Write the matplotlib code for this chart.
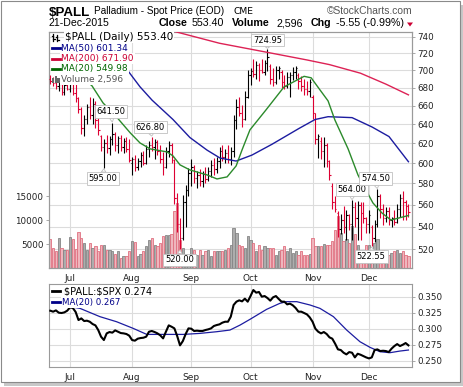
import numpy as np
import matplotlib
matplotlib.use('Agg')
import matplotlib.pyplot as plt
from matplotlib.ticker import FixedLocator, FuncFormatter, NullLocator
from matplotlib.transforms import blended_transform_factory
from matplotlib.patches import Rectangle, Polygon
from matplotlib.lines import Line2D

# ---------------- data ----------------
opens = [690, 688, 685, 682, 684, 675, 683, 679, 684, 674, 668, 656, 636, 646, 658, 650, 662, 644, 628, 616,
         620, 615, 624, 630, 618, 625, 616, 622, 614, 600, 604, 596, 602, 608, 600, 614, 618, 616, 621, 612,
         604, 596, 612, 618, 603, 566, 542, 530, 562, 574, 590, 596, 585, 588, 582, 589, 584, 592, 598, 594,
         602, 612, 606, 610, 604, 612, 644, 658, 652, 645, 670, 694, 699, 696, 706, 700, 698, 708, 705, 690,
         686, 700, 698, 686, 682, 692, 694, 698, 694, 688, 682, 678, 676, 670, 652, 624, 622, 612, 618, 602,
         578, 562, 552, 538, 546, 540, 550, 542, 558, 548, 560, 552, 548, 542, 540, 530, 542, 568, 556, 548,
         554, 546, 548, 544, 556, 566, 562, 559]
highs = [694, 692, 689, 688, 687, 686, 687, 686, 685, 685, 670, 658, 650, 662, 670, 668, 665, 650, 629, 624,
         629, 628, 641.5, 632, 628, 629, 626, 627, 624, 606, 608, 605, 611, 612, 618, 622, 626.8, 624, 623, 618,
         611, 616, 622, 620, 604, 571, 548, 569, 579, 595, 604, 598, 592, 594, 592, 596, 596, 603, 605, 606,
         616, 618, 614, 618, 616, 650, 667, 670, 661, 676, 700, 702, 713, 711, 708, 713, 712, 724.95, 707, 702,
         705, 705, 700, 695, 698, 698, 704, 705, 697, 693, 690, 688, 690, 672, 652, 630, 627, 627, 620, 603,
         580, 568, 554, 551, 559, 555, 551, 564, 562, 563, 562, 562, 549, 555, 541, 546, 574.5, 570, 561, 558,
         558, 549, 555, 561, 570, 573, 564, 561]
lows = [684, 682, 679, 676, 672, 672, 677, 675, 672, 664, 652, 630, 628, 640, 645, 640, 636, 629, 612, 595,
        610, 608, 618, 612, 610, 612, 610, 611, 601, 588, 592, 593, 596, 598, 599, 606, 612, 604, 608, 600,
        588, 595, 606, 600, 561, 535, 520, 528, 540, 568, 578, 580, 576, 578, 577, 580, 582, 586, 588, 590,
        595, 602, 600, 600, 598, 606, 635, 649, 637, 644, 668, 683, 692, 690, 688, 697, 694, 699, 684, 682,
        684, 690, 680, 679, 680, 670, 689, 690, 678, 676, 672, 672, 670, 646, 619, 605, 604, 596, 596, 583,
        556, 553, 531, 533, 534, 528, 537, 528, 540, 528, 528, 543, 534, 534, 522.55, 526, 540, 548, 541, 544,
        541, 540, 541, 543, 549, 546, 546, 549]
closes = [688, 685, 682, 684, 675, 683, 679, 684, 674, 668, 656, 636, 646, 658, 650, 662, 644, 634, 616, 620,
          615, 624, 630, 618, 625, 616, 622, 614, 603, 604, 596, 602, 608, 600, 614, 618, 616, 621, 612, 604,
          596, 612, 618, 606, 566, 542, 530, 562, 574, 590, 596, 585, 588, 582, 589, 584, 592, 598, 594, 602,
          612, 606, 610, 604, 612, 644, 658, 652, 645, 670, 694, 699, 696, 706, 700, 698, 708, 716, 690, 686,
          700, 702, 686, 682, 692, 694, 698, 702, 688, 682, 678, 676, 686, 652, 624, 628, 612, 618, 602, 588,
          562, 556, 538, 546, 540, 550, 542, 558, 548, 560, 552, 548, 542, 550, 530, 542, 568, 556, 548, 554,
          546, 548, 544, 556, 566, 562, 558.95, 553.40]
volumes = [6040, 4170, 3460, 6250, 4170, 3810, 3810, 6460, 6040, 3960, 7500, 6250, 5210, 3810, 5210, 4170, 4510, 3620, 4860, 4860,
           3810, 3810, 3600, 2830, 3620, 2080, 2570, 2570, 3460, 5690, 5340, 2570, 2980, 3460, 4510, 5900, 6250, 4860, 4510, 5210,
           6730, 6940, 6940, 7000, 11800, 13540, 5900, 4200, 3000, 2200, 4170, 3810, 2780, 3810, 2780, 3460, 3810, 2570, 3460, 3460,
           3460, 3620, 3810, 4200, 4860, 8330, 7290, 4860, 4510, 4170, 6600, 5900, 5210, 3460, 4860, 3810, 4510, 4170, 4170, 4170,
           2780, 3460, 3810, 4510, 3460, 4170, 3100, 3460, 2780, 3460, 2780, 2780, 3000, 6250, 4510, 4600, 4510, 5000, 4860, 4860,
           5600, 7980, 10750, 7300, 5600, 6000, 5200, 8670, 7000, 4860, 3460, 3460, 4860, 4860, 3460, 5200, 6040, 3460, 3810, 2780,
           2780, 3100, 3460, 3810, 3100, 3460, 2780, 2596]
ratio = [0.3281, 0.3266, 0.3286, 0.3250, 0.3245, 0.3255, 0.3281, 0.3333, 0.3323, 0.3260, 0.3135, 0.3161, 0.3120, 0.3125, 0.3109, 0.3073,
         0.3052, 0.2979, 0.2875, 0.2823, 0.2927, 0.2948, 0.2938, 0.2974, 0.2953, 0.2932, 0.2927, 0.2917, 0.2891, 0.2823, 0.2813, 0.2844,
         0.2854, 0.2859, 0.2875, 0.2953, 0.2964, 0.2948, 0.2927, 0.2896, 0.2849, 0.2953, 0.3052, 0.3031, 0.3005, 0.2885, 0.2740, 0.2807,
         0.2917, 0.3005, 0.3000, 0.2964, 0.2969, 0.2964, 0.2964, 0.2979, 0.2990, 0.3005, 0.3042, 0.3057, 0.3068, 0.3094, 0.3109, 0.3109,
         0.3188, 0.3370, 0.3422, 0.3443, 0.3427, 0.3469, 0.3422, 0.3510, 0.3604, 0.3563, 0.3573, 0.3500, 0.3510, 0.3479, 0.3438, 0.3490,
         0.3510, 0.3464, 0.3422, 0.3422, 0.3380, 0.3391, 0.3365, 0.3323, 0.3266, 0.3266, 0.3245, 0.3224, 0.3177, 0.3109, 0.3000, 0.2953,
         0.2927, 0.2948, 0.2917, 0.2865, 0.2844, 0.2766, 0.2677, 0.2667, 0.2625, 0.2599, 0.2635, 0.2625, 0.2552, 0.2609, 0.2594, 0.2573,
         0.2552, 0.2536, 0.2552, 0.2667, 0.2677, 0.2651, 0.2656, 0.2651, 0.2635, 0.2688, 0.2729, 0.2760, 0.2729, 0.2750, 0.2776, 0.2740]

ma200_idx = [44, 60, 77, 91, 99, 110, 119, 127]
ma200_val = [746.5, 732, 721, 712, 706.5, 696.5, 684, 671.90]
ma50_idx = [22, 27.6, 31.8, 36.1, 43.5, 49.5, 55.6, 60.2, 65.9, 71.5, 78.6, 88.2, 93.9, 98.5, 107, 114.1, 120.1, 127]
ma50_val = [720, 699, 681, 666, 645, 626, 613, 605, 602, 608, 619, 635.5, 645, 648, 647, 637, 627, 601.34]
ma20_idx = [12, 14.8, 18.7, 23.7, 28.3, 31.8, 35.4, 41.4, 43.5, 46, 49.5, 55.6, 59.1, 62.7, 65.9, 68, 70.8, 76.5, 82.9, 90,
            92.5, 95.6, 98.5, 100.9, 105.6, 109.1, 112.3, 114.4, 117.6, 120.8, 123.7, 127]
ma20_val = [690, 682, 663, 647, 631, 620.4, 614.3, 611.2, 607.2, 598.2, 593.2, 588.3, 584.4, 586.4, 597.2, 613.3, 634, 655.4, 680.9, 692.9,
            691.2, 677.6, 665.2, 644.6, 614.3, 588.3, 571.9, 561.6, 552.3, 545.9, 547.8, 549.98]
rma_idx = [7, 10.5, 17.6, 23.5, 29.4, 34.2, 41.3, 47.2, 53.1, 59, 63.7, 67.3, 70.8, 76.7, 81.4, 83.8, 87.4, 92.1, 95.6, 100.4,
           105.1, 109.8, 113.4, 116.9, 120.4, 124, 127]
rma_val = [0.3344, 0.3318, 0.3188, 0.3109, 0.3005, 0.2911, 0.2911, 0.2911, 0.2927, 0.2953, 0.2979, 0.3057, 0.3146, 0.3302, 0.3396, 0.3422,
           0.3422, 0.3370, 0.3318, 0.3188, 0.2979, 0.2797, 0.2708, 0.2641, 0.2625, 0.2651, 0.2667]

month_labels = ['Jul', 'Aug', 'Sep', 'Oct', 'Nov', 'Dec']
month_idx = [7, 29, 50, 71, 93, 113]
price_ticks = [520, 540, 560, 580, 600, 620, 640, 660, 680, 700, 720, 740]
vol_ticks = [5000, 10000, 15000]
ratio_ticks = [0.250, 0.275, 0.300, 0.325, 0.350]

# annotations: (index, price, label, dx_pts, dy_pts)
notes = [(77, 724.95, '724.95', 0, 6.5), (22, 641.5, '641.50', -1, 8.3), (36, 626.8, '626.80', -1, 7.0),
         (19, 595.0, '595.00', -0.5, -7.6), (46, 520.0, '520.00', -0.5, -7.7), (107, 564.0, '564.00', 0, 7.6),
         (116, 574.5, '574.50', -1.4, 7.6), (114, 522.55, '522.55', -0.4, -7.4)]

# ---------------- figure ----------------
W, H = 464, 387
fig = plt.figure(figsize=(W / 100, H / 100), dpi=100)
fig.patch.set_facecolor('white')
plt.rcParams['font.family'] = ['DejaVu Sans']

def rect(l, t, r, b):
    return [l / W, 1 - b / H, (r - l) / W, (b - t) / H]

def ftext(x, y, s, **kw):
    return fig.text(x / W, 1 - y / H, s, **kw)

RED = '#dd0033'
GRID = '#dcdcdc'
SPINE = '#9a9a9a'
TICKFS = 6.3

idx = np.arange(len(closes))
closes_a = np.array(closes)
prev = np.concatenate([[opens[0]], closes_a[:-1]])
up = closes_a >= prev

# volume axes (drawn first, underneath)
axv = fig.add_axes(rect(49, 32, 412, 268))
ax = axv.twinx()
ax.patch.set_visible(False)

xlim = (-0.46, 128.26)
axv.set_xlim(*xlim)
ax.set_xlim(*xlim)
ax.set_yscale('log')
ax.set_ylim(504.1, 745.8)
axv.set_ylim(0, 49170)

# grid (drawn in the volume axes so it sits under the bars)
tr = blended_transform_factory(axv.transAxes, ax.transData)
for p in price_ticks:
    axv.add_line(Line2D([0, 1], [p, p], transform=tr, color=GRID, lw=0.8, zorder=0))
for m in month_idx:
    axv.axvline(m, color=GRID, lw=0.8, zorder=0)

vfc = np.where(up, '#adadad', '#efb6bd')
vec = np.where(up, '#858585', '#e07080')
axv.bar(idx, volumes, width=0.8, color=vfc, edgecolor=vec, linewidth=0.6, zorder=2)

# price OHLC bars
pc = np.where(up, 'black', RED)
ax.vlines(idx, lows, highs, colors=pc, lw=0.8, zorder=3)
ax.hlines(opens, idx - 0.45, idx, colors=pc, lw=0.8, zorder=3)
ax.hlines(closes, idx, idx + 0.45, colors=pc, lw=0.8, zorder=3)

ax.plot(ma200_idx, ma200_val, color='#dd2255', lw=1.0, zorder=4)
ax.plot(ma50_idx, ma50_val, color='#1c1ca0', lw=1.0, zorder=4)
ax.plot(ma20_idx, ma20_val, color='#2b8a2b', lw=1.0, zorder=4)

for i, p, s, dx, dy in notes:
    ax.annotate(s, xy=(i, p), xytext=(dx, dy), textcoords='offset points', ha='center', va='center',
                fontsize=6.0, color='black', annotation_clip=False, zorder=6,
                bbox=dict(boxstyle='square,pad=0.22', fc='white', ec='#c0c0c0', lw=0.6),
                arrowprops=dict(arrowstyle='wedge,tail_width=0.55,shrink_factor=0.5', fc='white', ec='#c0c0c0', lw=0.6,
                                shrinkA=0, shrinkB=0.5))

# axes styling main
ax.yaxis.set_major_locator(FixedLocator(price_ticks))
ax.yaxis.set_minor_locator(NullLocator())
ax.yaxis.set_major_formatter(FuncFormatter(lambda v, p: '%d' % round(v)))
ax.yaxis.set_minor_formatter(FuncFormatter(lambda v, p: ''))
ax.tick_params(axis='y', which='major', right=True, length=2.5, width=0.6, color=SPINE, labelsize=TICKFS, pad=1.5, labelcolor='#222222')
axv.yaxis.set_major_locator(FixedLocator(vol_ticks))
axv.yaxis.set_major_formatter(FuncFormatter(lambda v, p: '%d' % v))
axv.tick_params(axis='y', left=True, length=2.5, width=0.6, color=SPINE, labelsize=TICKFS, pad=1.5, labelcolor='#222222')
axv.xaxis.set_major_locator(FixedLocator(month_idx))
axv.set_xticklabels(month_labels)
axv.tick_params(axis='x', length=0, labelsize=6.5, pad=4.5, labelcolor='#222222')
ax.tick_params(axis='x', length=0, labelbottom=False)
for a in (ax, axv):
    for sp in a.spines.values():
        sp.set_color(SPINE)
        sp.set_linewidth(0.8)

# lower panel
ax2 = fig.add_axes(rect(49, 284, 412, 367))
ax2.set_xlim(*xlim)
ax2.set_ylim(0.2402, 0.3698)
for t in ratio_ticks:
    ax2.axhline(t, color=GRID, lw=0.8, zorder=0)
for m in month_idx:
    ax2.axvline(m, color=GRID, lw=0.8, zorder=0)
ax2.plot(rma_idx, rma_val, color='#1c1ca0', lw=0.9, zorder=3)
ax2.plot(idx, ratio, color='black', lw=1.5, zorder=4)
ax2.yaxis.tick_right()
ax2.yaxis.set_major_locator(FixedLocator(ratio_ticks))
ax2.yaxis.set_major_formatter(FuncFormatter(lambda v, p: '%.3f' % v))
ax2.tick_params(axis='y', length=2.5, width=0.6, color=SPINE, labelsize=TICKFS, pad=1.5, labelcolor='#222222')
ax2.xaxis.set_major_locator(FixedLocator(month_idx))
ax2.set_xticklabels(month_labels)
ax2.tick_params(axis='x', length=0, labelsize=6.5, pad=4.0, labelcolor='#222222')
for sp in ax2.spines.values():
    sp.set_color(SPINE)
    sp.set_linewidth(0.8)

# ---------------- header ----------------
ftext(49, 15.5, '$PALL', fontsize=9.6, fontweight='bold', family='Liberation Sans', va='baseline')
ftext(94, 14.5, 'Palladium - Spot Price (EOD)', fontsize=7.2, family='Liberation Sans', va='baseline')
ftext(234, 14.5, 'CME', fontsize=6.6, family='DejaVu Sans', va='baseline')
ftext(413, 14.0, '\u00a9StockCharts.com', fontsize=7.4, family='Liberation Sans', va='baseline', ha='right', color='#555555')
ftext(49, 26.3, '21-Dec-2015', fontsize=7.6, family='Liberation Sans', va='baseline')
ftext(159, 26.3, 'Close', fontsize=7.7, fontweight='bold', family='Liberation Sans', va='baseline')
ftext(192, 26.3, '553.40', fontsize=7.7, family='Liberation Sans', va='baseline')
ftext(232, 26.3, 'Volume', fontsize=7.7, fontweight='bold', family='Liberation Sans', va='baseline')
ftext(277, 26.3, '2,596', fontsize=7.7, family='Liberation Sans', va='baseline')
ftext(311, 26.3, 'Chg', fontsize=7.7, fontweight='bold', family='Liberation Sans', va='baseline')
ftext(336, 26.3, '-5.55 (-0.99%)', fontsize=7.7, family='Liberation Sans', va='baseline')
fig.patches.append(Polygon([[407 / W, 1 - 22.5 / H], [413 / W, 1 - 22.5 / H], [410 / W, 1 - 26.5 / H]],
                           closed=True, transform=fig.transFigure, fc='#cc0033', ec='none'))

# ---------------- legends ----------------
bb = dict(fc='white', ec='none', pad=0.8)
ftext(65, 36.9, '$PALL (Daily) 553.40', fontsize=7.5, va='center', color='black', bbox=bb, zorder=10)
ftext(61.5, 48, 'MA(50) 601.34', fontsize=6.5, va='center', color='#000088', bbox=bb, zorder=10)
ftext(61.5, 58.5, 'MA(200) 671.90', fontsize=6.5, va='center', color='#cc0033', bbox=bb, zorder=10)
ftext(61.5, 69, 'MA(20) 549.98', fontsize=6.5, va='center', color='#006600', bbox=bb, zorder=10)
ftext(61.5, 79.5, 'Volume 2,596', fontsize=6.5, va='center', color='#555555', bbox=bb, zorder=10)
ftext(64, 291, r'\$PALL:\$SPX 0.274', fontsize=7.0, va='center', color='black', bbox=bb, zorder=10)
ftext(62.5, 302, 'MA(20) 0.267', fontsize=6.2, va='center', color='#000088', bbox=bb, zorder=10)

def fline(x0, x1, y, color, lw):
    fig.lines.append(Line2D([x0 / W, x1 / W], [1 - y / H, 1 - y / H], transform=fig.transFigure, color=color, lw=lw, zorder=11))

fline(52, 60, 48, '#000088', 2.0)
fline(52, 60, 58.5, '#cc0033', 2.0)
fline(52, 60, 69, '#006600', 2.0)
fline(52, 60, 291, 'black', 2.0)
fline(52, 60, 302, '#000088', 2.0)
# OHLC icon
for (xb, t, b) in [(53.5, 33.5, 40.5), (57.5, 34.5, 41.0)]:
    fig.lines.append(Line2D([xb / W, xb / W], [1 - t / H, 1 - b / H], transform=fig.transFigure, color='black', lw=0.9, zorder=11))
fline(52, 53.5, 35.5, 'black', 0.9)
fline(53.5, 55, 38.5, 'black', 0.9)
fline(56, 57.5, 36.5, 'black', 0.9)
fline(57.5, 59, 39.5, 'black', 0.9)
# volume icon
for (xb, t) in [(52.5, 78), (55, 76), (57.5, 77.5)]:
    fig.patches.append(Rectangle((xb / W, 1 - 83 / H), 2 / W, (83 - t) / H, transform=fig.transFigure,
                                 fc='#666666', ec='none', zorder=11))

# ---------------- frame / shadow ----------------
fig.patches.append(Rectangle((461 / W, 1 - 385 / H), 3 / W, 380 / H, transform=fig.transFigure, fc='#c8c8c8', ec='none'))
fig.patches.append(Rectangle((4 / W, 1 - 386 / H), 460 / W, 4 / H, transform=fig.transFigure, fc='#c8c8c8', ec='none'))
fig.patches.append(Rectangle((0.5 / W, 1 - 382 / H), 460 / W, 381 / H, transform=fig.transFigure, fill=False, ec='#8a8a8a', lw=0.8))

fig.savefig('out.png', dpi=100, facecolor='white')
